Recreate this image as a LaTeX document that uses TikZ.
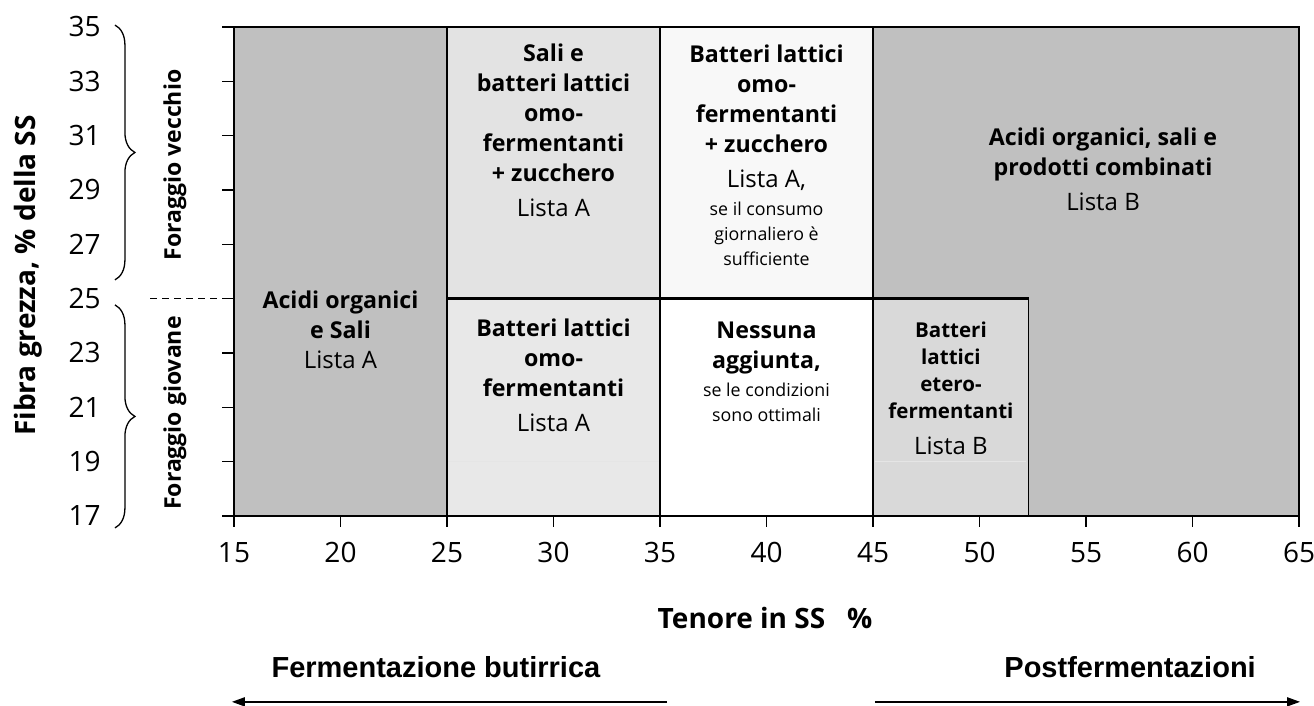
\documentclass[tikz,border=0pt]{standalone}
\usepackage{fontspec}
\setmainfont{Open Sans}
\newfontfamily\arialfont{Liberation Sans}
\usetikzlibrary{decorations.pathreplacing,arrows.meta}
\definecolor{darkcell}{HTML}{C0C0C0}
\definecolor{lightA}{HTML}{E3E3E3}
\definecolor{lightB}{HTML}{E8E8E8}
\definecolor{paleC}{HTML}{F8F8F8}
\definecolor{midD}{HTML}{D9D9D9}
\newcommand{\cB}{\fontsize{23.2}{30}\selectfont\bfseries}
\newcommand{\cN}{\fontsize{24}{30}\selectfont\mdseries}
\newcommand{\cS}{\fontsize{17.8}{25}\selectfont\mdseries}
\newcommand{\cBs}{\fontsize{20.5}{27}\selectfont\bfseries}
\tikzset{
  celltext/.style={align=center, inner sep=0pt, font=\cB},
  smallcell/.style={align=center, inner sep=0pt, font=\cBs},
  ticklab/.style={font=\fontsize{28}{32}\selectfont, inner sep=0pt},
  divider/.style={line width=2.6pt},
  frame/.style={line width=1.6pt},
  tickmark/.style={line width=1.4pt},
  bracestyle/.style={decorate, decoration={brace, amplitude=20pt}, line width=1.3pt},
  sidelab/.style={rotate=90, font=\fontsize{23}{26}\selectfont\bfseries, inner sep=0pt},
  bottomlab/.style={font=\fontsize{29}{34}\selectfont\arialfont\bfseries, inner sep=0pt},
  longarrow/.style={line width=1.6pt, -{Triangle[length=13pt,width=9pt]}}
}
\begin{document}
\begin{tikzpicture}
\useasboundingbox (0,0) rectangle (1314pt,706pt);
\begin{scope}[x=21.3pt,y=27.17pt,shift={(-85.5pt,-271.9pt)}]
% cells
\fill[darkcell] (15,17) rectangle (25,35);
\fill[darkcell] (45,17) rectangle (65,35);
\fill[lightA] (25,25) rectangle (35,35);
\fill[lightB] (25,17) rectangle (35,25);
\fill[paleC] (35,25) rectangle (45,35);
\fill[white] (35,17) rectangle (45,25);
\fill[midD] (45,17) rectangle (52.3,25);
% faint grid
\draw[white!90!black, line width=0.5pt] (25,19) -- (35,19);
\draw[white!90!black, line width=0.5pt] (45.1,19) -- (52.2,19);
% frame
\draw[frame] (15,17) -- (15,35) -- (65,35) -- (65,17);
\draw[line width=2.2pt] (15,17) -- (65,17);
% dividers
\draw[divider] (25,17) -- (25,35);
\draw[divider] (35,17) -- (35,35);
\draw[divider] (45,17) -- (45,35);
\draw[divider] (25,25) -- (52.3,25);
\draw[line width=1.8pt] (52.3,25) -- (52.3,17);
% y ticks and labels
\foreach \v in {17,19,...,35} {
  \draw[tickmark] (14.44,\v) -- (15,\v);
  \node[ticklab, anchor=east] (yt\v) at (8.75,\v) {\v};
}
% x ticks and labels
\foreach \v in {15,20,...,65} {
  \draw[tickmark] (\v,17) -- (\v,16.58);
  \node[ticklab] (xt\v) at (\v,15.64) {\v};
}
% dashed separator
\draw[line width=1.2pt, dash pattern=on 7pt off 5pt] (11.06,25) -- (14.44,25);
% braces
\draw[bracestyle] (9.41,35.07) -- (9.41,25.69);
\draw[bracestyle] (9.41,24.77) -- (9.41,16.56);
\node[sidelab] (fv) at (12.23,29.92) {Foraggio vecchio};
\node[sidelab] (fg) at (12.23,20.79) {Foraggio giovane};
% axis titles
\node[rotate=90, font=\fontsize{28}{32}\selectfont\bfseries, inner sep=0pt] (ytitle) at (5.33,25.85) {Fibra grezza, \% della SS};
\node[font=\fontsize{28}{32}\selectfont\bfseries, inner sep=0pt] (xtitle) at (39.93,13.24) {Tenore in SS\ \ \ \%};
% cell texts
\node[celltext] (c1) at (20,23.85) {Acidi organici\\ e Sali\\ \cN Lista A};
\node[celltext] (c2) at (30,31.21) {Sali e\\ batteri lattici\\ omo-\\ fermentanti\\ + zucchero\\[5pt] \cN Lista A};
\node[celltext] (c3) at (40,30.29) {Batteri lattici\\ omo-\\ fermentanti\\ + zucchero\\[5pt] \cN Lista A,\\[-2pt] \cS se il consumo\\[-5pt] \cS giornaliero è\\[-5pt] \cS sufficiente};
\node[celltext] (c4) at (55.8,29.75) {Acidi organici, sali e\\ prodotti combinati\\[5pt] \cN Lista B};
\node[celltext] (c5) at (30,22.18) {Batteri lattici\\ omo-\\ fermentanti\\[5pt] \cN Lista A};
\node[celltext] (c6) at (40,22.32) {Nessuna\\ aggiunta,\\[-2pt] \cS se le condizioni\\[-5pt] \cS sono ottimali};
\node[smallcell] (c7) at (48.66,21.71) {Batteri\\ lattici\\ etero-\\ fermentanti\\[9pt] \cN Lista B};
% bottom labels and arrows
\node[bottomlab] (fb) at (24.48,11.45) {Fermentazione butirrica};
\node[bottomlab] (pf) at (57.07,11.45) {Postfermentazioni};
\coordinate (la0) at (35.33,10.16);
\coordinate (la1) at (14.9,10.16);
\coordinate (ra0) at (45.09,10.16);
\coordinate (ra1) at (65.05,10.16);
\draw[longarrow] (la0) -- (la1);
\draw[longarrow] (ra0) -- (ra1);
\end{scope}
\end{tikzpicture}
\end{document}
